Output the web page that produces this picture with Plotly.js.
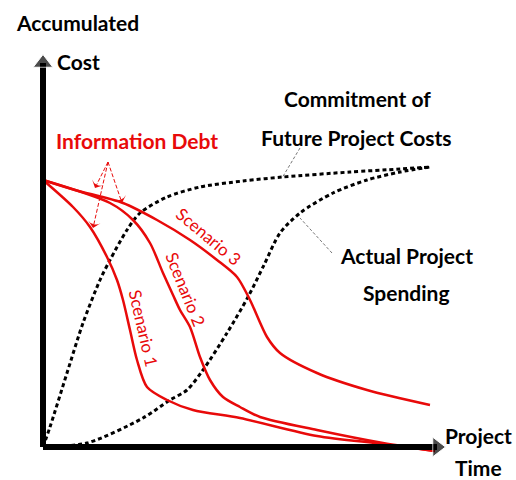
<!DOCTYPE html>
<html>
<head>
<meta charset="utf-8">
<script src="https://cdn.plot.ly/plotly-3.0.1.min.js"></script>
<style>
  body { margin: 0; background: #fff; }
  #graph { width: 516px; height: 480px; }
</style>
</head>
<body>
<div id="graph"></div>
<script>
// curves (x = project time, y = accumulated cost, 0..100)
const commitX = [0, 1.75, 6, 10, 14.25, 16.75, 21, 24.25, 31, 39.25, 50, 60, 76.75, 89.25, 96.75];
const commitY = [0, 5, 18.5, 31, 41.75, 46.75, 54.25, 58.5, 62.5, 65, 66.5, 67.5, 68.75, 69.5, 70];

const spendX = [0, 11, 25, 31.75, 36, 40, 46, 51.25, 55.25, 59.25, 64.25, 72.5, 81, 89.25, 96.75];
const spendY = [0, 1, 7.25, 11.75, 14.25, 19.25, 28.5, 37.5, 45.5, 53.5, 58.5, 63.5, 66.75, 68.75, 70];

const scen1X = [0, 7.5, 11.75, 16, 18.5, 20, 21.75, 23.5, 26, 31, 37.5, 49.25, 68.5, 85, 98];
const scen1Y = [66.75, 60, 55, 47.5, 41.75, 36.75, 29.25, 21.75, 15, 11.75, 9.25, 7.25, 2.75, 0.75, -1];

const scen2X = [0, 16.75, 22.5, 26.75, 30, 32.5, 34.25, 36.75, 39.25, 41.75, 45, 49.25, 54.25, 68.5, 85, 98];
const scen2Y = [66.75, 61, 56.75, 51, 43.5, 38, 34.25, 30, 22.5, 16.75, 12.5, 10, 7.5, 4.25, 1, -1];

const scen3X = [0, 8, 20, 28.5, 36.75, 43.5, 48.5, 51.75, 56, 59.25, 68.5, 81, 96.75];
const scen3Y = [66.75, 64.25, 61, 56.75, 51.75, 46.75, 42.5, 36.75, 27.5, 23.5, 18.5, 14.25, 10.5];

// "Information Debt" pointers: apex and the three ends
const debtApex = [16.25, 71.25];
const debtEndX = [13, 19.75, 12.5];
const debtEndY = [64.75, 61, 54.75];

// leader lines for the black curves
const leadCommitX = [64.25, 59.75];
const leadCommitY = [74.75, 67.25];
const leadSpendX = [72.25, 64.25];
const leadSpendY = [48.5, 57.25];

// axes with arrow tips
const axisX = [0, 98.5];
const axisY = [0, 96];

// texts (data units; drawn against the paper so they can sit outside the axes)
const labelText = ["Accumulated", "Cost", "Commitment of", "Future Project Costs",
                   "Actual Project", "Spending", "Project", "Time"];
const labelX = [8.5, 8.75, 78.5, 78.25, 90.75, 90.75, 108.75, 108.75];
const labelY = [106, 96.25, 87.25, 77.5, 48, 38.75, 3, -5.25];

const scenText = ["Scenario 1", "Scenario 2", "Scenario 3"];
const scenX = [25.25, 35.75, 41.5];
const scenY = [29.75, 39.5, 52.75];
const scenAngle = [77, 68, 40];

const RANGE = [-3, 103];
const RED = "rgb(232,10,10)";
const FONT = "Lato, 'Open Sans', sans-serif";

const toPaper = v => (v - RANGE[0]) / (RANGE[1] - RANGE[0]);

const traces = [];

function dashed(x, y) {
    return {
        x: x, y: y, mode: "lines", type: "scatter", hoverinfo: "skip",
        line: { color: "#000", width: 3, dash: "4px,3px", shape: "spline", smoothing: 0.8 }
    };
}
function redCurve(x, y) {
    return {
        x: x, y: y, mode: "lines", type: "scatter", hoverinfo: "skip",
        line: { color: RED, width: 2.5, shape: "spline", smoothing: 0.8 }
    };
}

traces.push(dashed(commitX, commitY));
traces.push(dashed(spendX, spendY));
traces.push(redCurve(scen1X, scen1Y));
traces.push(redCurve(scen2X, scen2Y));
traces.push(redCurve(scen3X, scen3Y));

// leaders
traces.push({ x: leadCommitX, y: leadCommitY, mode: "lines", type: "scatter", hoverinfo: "skip",
    line: { color: "#777", width: 1, dash: "3px,2px" } });
traces.push({ x: leadSpendX, y: leadSpendY, mode: "lines", type: "scatter", hoverinfo: "skip",
    line: { color: "#777", width: 1, dash: "3px,2px" } });

// information debt pointers
debtEndX.forEach((ex, i) => {
    traces.push({
        x: [debtApex[0], ex], y: [debtApex[1], debtEndY[i]],
        mode: "lines+markers", type: "scatter", hoverinfo: "skip",
        line: { color: RED, width: 1, dash: "4px,2px" },
        marker: { symbol: "arrow-wide", angleref: "previous", size: 9, opacity: [0, 1],
                  color: RED, line: { width: 0 } }
    });
});

// axes
traces.push({
    x: [axisX[0], axisX[1]], y: [0, 0], mode: "lines+markers", type: "scatter", hoverinfo: "skip",
    line: { color: "#000", width: 6 },
    marker: { symbol: "triangle-right", size: [0, 17], color: "#000" }
});
traces.push({
    x: [0, 0], y: [axisY[0], axisY[1]], mode: "lines+markers", type: "scatter", hoverinfo: "skip",
    line: { color: "#000", width: 6 },
    marker: { symbol: "triangle-up", size: [0, 17], color: "#000" }
});

const annotations = [];
labelText.forEach((t, i) => {
    annotations.push({
        x: toPaper(labelX[i]), y: toPaper(labelY[i]), xref: "paper", yref: "paper",
        xanchor: "center", yanchor: "middle",
        text: t, showarrow: false,
        font: { family: FONT, size: 21, weight: 700, color: "#000" }
    });
});
annotations.push({
    x: toPaper(23.5), y: toPaper(76.75), xref: "paper", yref: "paper",
    xanchor: "center", yanchor: "middle",
    text: "Information Debt", showarrow: false,
    font: { family: FONT, size: 21, weight: 700, color: RED }
});
scenText.forEach((t, i) => {
    annotations.push({
        x: scenX[i], y: scenY[i], xref: "x", yref: "y", text: t, showarrow: false,
        textangle: scenAngle[i],
        font: { family: FONT, size: 17, color: RED }
    });
});

const hidden = { range: RANGE, showgrid: false, zeroline: false, showticklabels: false,
                 showline: false, ticks: "", fixedrange: true };

const layout = {
    width: 516, height: 480,
    margin: { l: 31, r: 61, t: 35, b: 21 },
    paper_bgcolor: "#fff", plot_bgcolor: "#fff",
    showlegend: false,
    xaxis: Object.assign({}, hidden),
    yaxis: Object.assign({}, hidden),
    annotations: annotations
};

Plotly.newPlot("graph", traces, layout, { displayModeBar: false, staticPlot: true });
</script>
</body>
</html>
